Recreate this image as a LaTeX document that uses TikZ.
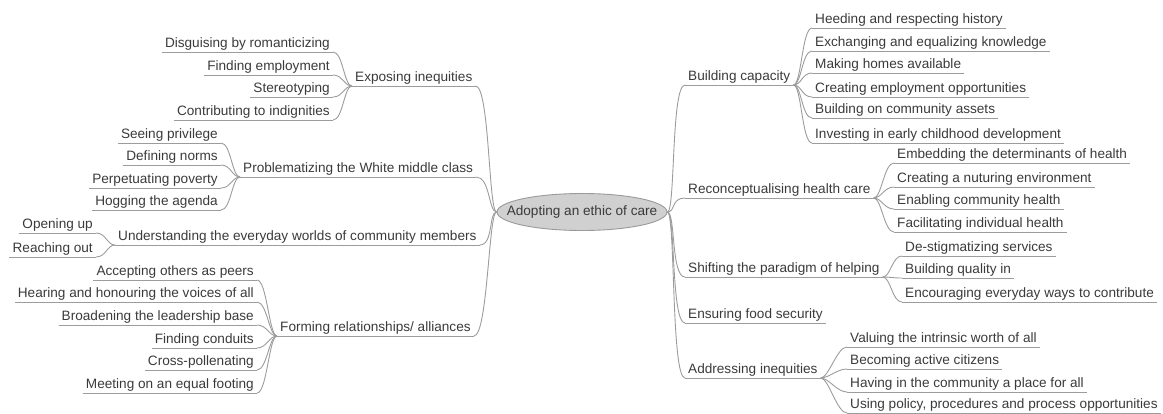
\documentclass[tikz,border=0pt]{standalone}
\usepackage{fontspec}
\setmainfont{Liberation Sans}
\usetikzlibrary{shapes.geometric}
\definecolor{txt}{HTML}{3A3A3A}
\definecolor{lin}{HTML}{9C9C9C}
\definecolor{rootfill}{HTML}{D0D0D0}
\definecolor{rootdraw}{HTML}{9A9A9A}
\begin{document}
\begin{tikzpicture}[x=1pt,y=-1pt,
  ul/.style={draw=lin, line width=0.9pt},
  conn/.style={draw=lin, line width=0.9pt},
  lbl/.style={font=\fontsize{13.6}{15}\selectfont, text=txt, inner xsep=3pt, inner ysep=1pt,
    text height=10pt, text depth=3pt,
    append after command={(\tikzlastnode.south west) edge[ul] (\tikzlastnode.south east)}},
  lt/.style={lbl, anchor=south east},
  rt/.style={lbl, anchor=south west},
  root/.style={ellipse, fill=rootfill, draw=rootdraw, line width=0.9pt, minimum width=170pt,
    minimum height=37pt, inner sep=0pt},
  roottxt/.style={font=\fontsize{13.6}{15}\selectfont, text=txt, inner sep=0pt}]
\useasboundingbox (0,0) rectangle (1163,413);

\node[root] (root) at (582,212) {};
\node[roottxt] (roottext) at (root.center) {Adopting an ethic of care};

% ---------- left side ----------
\node[rt] (ex) at (352,86) {Exposing inequities};
\node[lt] (ex1) at (333,52) {Disguising by romanticizing};
\node[lt] (ex2) at (333,75) {Finding employment};
\node[lt] (ex3) at (333,97) {Stereotyping};
\node[lt] (ex4) at (333,120) {Contributing to indignities};

\node[rt] (pr) at (240,177) {Problematizing the White middle class};
\node[lt] (pr1) at (221,143) {Seeing privilege};
\node[lt] (pr2) at (221,165) {Defining norms};
\node[lt] (pr3) at (221,188) {Perpetuating poverty};
\node[lt] (pr4) at (221,210) {Hogging the agenda};

\node[rt] (un) at (115,245) {Understanding the everyday worlds of community members};
\node[lt] (un1) at (96,233) {Opening up};
\node[lt] (un2) at (96,257) {Reaching out};

\node[rt] (fo) at (277,336) {Forming relationships/ alliances};
\node[lt] (fo1) at (257,280) {Accepting others as peers};
\node[lt] (fo2) at (257,302) {Hearing and honouring the voices of all};
\node[lt] (fo3) at (257,325) {Broadening the leadership base};
\node[lt] (fo4) at (257,348) {Finding conduits};
\node[lt] (fo5) at (257,370) {Cross-pollenating};
\node[lt] (fo6) at (257,393) {Meeting on an equal footing};

% ---------- right side ----------
\node[rt] (bc) at (685,85) {Building capacity};
\node[rt] (bc1) at (812,28) {Heeding and respecting history};
\node[rt] (bc2) at (812,51) {Exchanging and equalizing knowledge};
\node[rt] (bc3) at (812,73) {Making homes available};
\node[rt] (bc4) at (812,97) {Creating employment opportunities};
\node[rt] (bc5) at (812,118) {Building on community assets};
\node[rt] (bc6) at (812,143) {Investing in early childhood development};

\node[rt] (rc) at (685,198) {Reconceptualising health care};
\node[rt] (rc1) at (894,163) {Embedding the determinants of health};
\node[rt] (rc2) at (894,187) {Creating a nuturing environment};
\node[rt] (rc3) at (894,209) {Enabling community health};
\node[rt] (rc4) at (894,232) {Facilitating individual health};

\node[rt] (sh) at (685,277) {Shifting the paradigm of helping};
\node[rt] (sh1) at (902,256) {De-stigmatizing services};
\node[rt] (sh2) at (902,278) {Building quality in};
\node[rt] (sh3) at (902,302) {Encouraging everyday ways to contribute};

\node[rt] (ef) at (685,323) {Ensuring food security};

\node[rt] (ad) at (685,378) {Addressing inequities};
\node[rt] (ad1) at (847,347) {Valuing the intrinsic worth of all};
\node[rt] (ad2) at (847,369) {Becoming active citizens};
\node[rt] (ad3) at (847,392) {Having in the community a place for all};
\node[rt] (ad4) at (847,413) {Using policy, procedures and process opportunities};

% ---------- connectors ----------
\foreach \p in {ex,pr,un,fo}
  \draw[conn] (root.west) .. controls +(-8,0) and +(14,0) .. (\p.south east);
\foreach \p in {bc,rc,sh,ef,ad}
  \draw[conn] (root.east) .. controls +(8,0) and +(-14,0) .. (\p.south west);

\foreach \c in {ex1,ex2,ex3,ex4}
  \draw[conn] (ex.south west) .. controls +(-8,0) and +(10,0) .. (\c.south east);
\foreach \c in {pr1,pr2,pr3,pr4}
  \draw[conn] (pr.south west) .. controls +(-8,0) and +(10,0) .. (\c.south east);
\foreach \c in {un1,un2}
  \draw[conn] (un.south west) .. controls +(-8,0) and +(10,0) .. (\c.south east);
\foreach \c in {fo1,fo2,fo3,fo4,fo5,fo6}
  \draw[conn] (fo.south west) .. controls +(-8,0) and +(10,0) .. (\c.south east);

\foreach \c in {bc1,bc2,bc3,bc4,bc5,bc6}
  \draw[conn] (bc.south east) .. controls +(8,0) and +(-10,0) .. (\c.south west);
\foreach \c in {rc1,rc2,rc3,rc4}
  \draw[conn] (rc.south east) .. controls +(8,0) and +(-10,0) .. (\c.south west);
\foreach \c in {sh1,sh2,sh3}
  \draw[conn] (sh.south east) .. controls +(8,0) and +(-10,0) .. (\c.south west);
\foreach \c in {ad1,ad2,ad3,ad4}
  \draw[conn] (ad.south east) .. controls +(8,0) and +(-10,0) .. (\c.south west);
\end{tikzpicture}
\end{document}
